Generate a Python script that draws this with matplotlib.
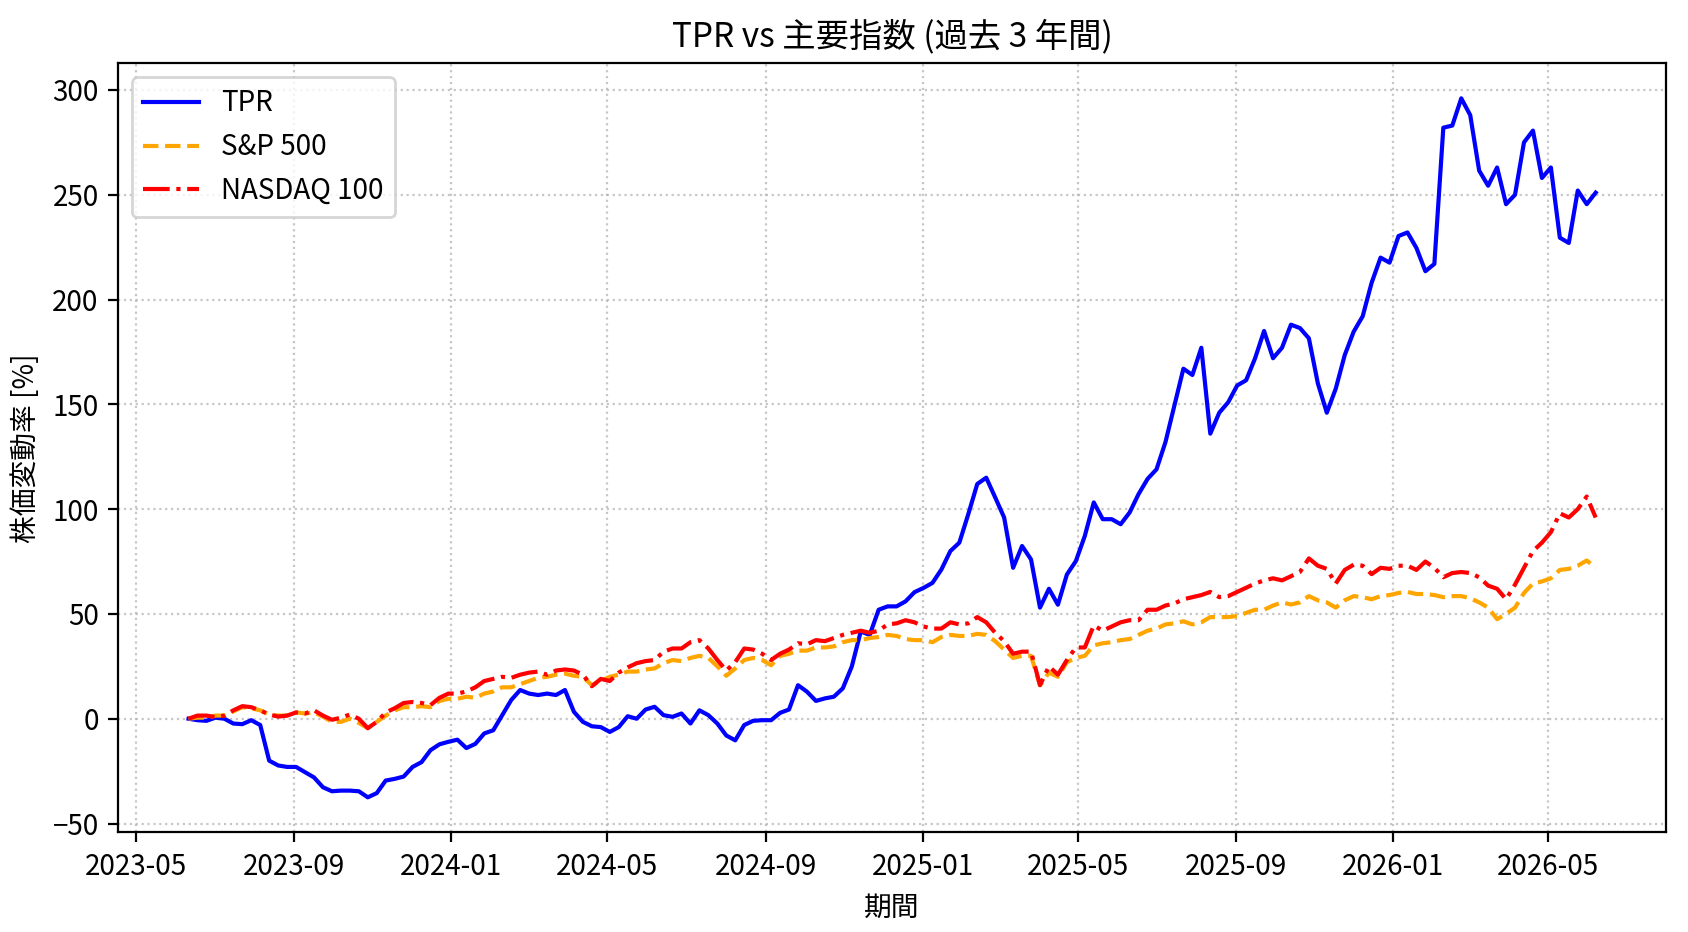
import pandas as pd
import matplotlib
matplotlib.use("Agg")
import matplotlib.pyplot as plt
import matplotlib.dates as mdates

plt.rcParams['font.family'] = ['Noto Sans CJK JP', 'DejaVu Sans']

# ほぼ週次の日付 (2023-06-11 〜 2026-06-07, 158 点)
dates = pd.date_range('2023-06-11', '2026-06-07', periods=158)

# 株価変動率 [%]
tpr = [
    0, -0.7, -1, 0.5, 0, -2.3, -2.6, -0.7, -3, -20,
    -22.3, -23, -23, -25.5, -28, -32.7, -34.6, -34.3, -34.3, -34.6,
    -37.5, -35.5, -29.5, -28.7, -27.6, -23, -20.7, -15, -12.2, -11,
    -10, -14, -12, -7, -5.5, 1.7, 8.9, 13.7, 12, 11.3,
    12, 11.3, 13.7, 3.3, -1.5, -3.6, -4, -6.3, -4, 1.2,
    0, 4.4, 5.7, 1.7, 0.9, 2.5, -2.3, 4, 1.7, -2.3,
    -8, -10.3, -3, -1, -0.7, -0.7, 2.8, 4.4, 16, 12.9,
    8.5, 9.7, 10.5, 14.5, 24.9, 41.6, 40, 52, 53.6, 53.6,
    56, 60.4, 62.4, 64.8, 71.2, 80, 84, 97.6, 112, 115,
    105.6, 96, 72, 82.4, 76, 53, 62, 54.4, 68.8, 75.2,
    87.2, 103.2, 95.2, 95.2, 92.8, 98.4, 107.2, 114.4, 119, 132,
    149.6, 167, 164, 177, 136, 146, 151, 159, 161.5, 172,
    185, 172, 177, 188, 186.4, 181.5, 160, 146, 157.5, 173.5,
    184.7, 192, 208, 220, 217.6, 230.3, 232, 224.6, 213.5, 217,
    282, 283, 296, 288, 261.5, 254.3, 263, 245.5, 250, 275,
    280.6, 258, 263, 229.5, 227, 252, 245.5, 251,
]
sp500 = [
    0, 0.5, 0.5, 1.5, 1.5, 3.5, 5.5, 5, 4, 2,
    1.5, 1.5, 3, 2.5, 3, 1, -1.5, -1.5, 0, -2,
    -4.5, -1.5, 1.5, 4, 5.5, 5.5, 6, 5.5, 8.5, 9.5,
    9.5, 10.5, 10, 12, 13, 15, 15, 16.5, 18, 19.5,
    20, 21, 21.5, 20.5, 20, 16, 18, 20, 21, 22.5,
    22.5, 23.5, 24, 26.5, 28, 27.5, 29, 30, 29, 25,
    20.5, 24, 28, 29, 28, 25.5, 30, 31, 32.5, 32.5,
    34, 34, 34.5, 36.5, 37.5, 37.5, 38.5, 39, 40, 39.5,
    38, 37.5, 37.5, 36.5, 39, 40, 39.5, 39.5, 40.5, 40,
    37, 33, 29, 30, 30, 16, 22, 20, 27, 29,
    30, 35, 36, 36.5, 37.5, 38, 40, 42, 43, 45,
    45.5, 46.5, 45, 46, 48.5, 48.5, 48.5, 49, 50.5, 52,
    52, 54, 55.5, 54.5, 55.5, 58.5, 56.5, 55.5, 53, 56.5,
    58.5, 58, 57, 58.5, 59, 60, 60.5, 59.5, 59.5, 59,
    58, 58.5, 58.5, 57.5, 55.5, 53, 47.5, 50, 53, 60,
    64.5, 65.5, 67, 71, 71.5, 73, 75.5, 72,
]
nasdaq100 = [
    0, 1.5, 1.5, 0.8, 1.5, 4, 6, 5.5, 4, 2,
    1, 1.5, 3, 2.5, 4, 1.5, -0.5, 0.5, 2, 0,
    -4.5, -1.5, 3, 5, 7.5, 8, 7.5, 6.5, 10, 12,
    12, 13, 15, 18, 19, 20, 19.5, 21, 22, 22.5,
    21, 23, 23.5, 23, 21, 15.5, 19, 18, 22, 24.5,
    26.5, 27.5, 28, 32, 33.5, 33.5, 36.5, 37.5, 33.5, 28,
    23, 27, 33.5, 33, 31, 28, 31, 33, 36, 35.5,
    37.5, 37, 38.5, 40, 41, 42, 41, 42, 45, 45.5,
    47, 46, 44, 43, 43, 46, 45, 45.5, 48.5, 46,
    41, 37, 31, 32, 32, 16, 25, 21, 28, 34,
    34, 44.5, 42, 44, 46, 47, 47, 52, 52, 54,
    55, 57, 58, 59, 60.5, 58, 58.5, 60.5, 62.5, 64.5,
    66, 67, 66, 68, 70, 76.5, 73, 71.5, 64.5, 71,
    73.5, 73, 69, 72, 71.5, 73, 73, 71, 75, 72,
    67.5, 69.5, 70, 69.5, 67.5, 63.5, 62, 57, 64, 72,
    80, 84, 89, 98, 96, 100, 106, 96,
]

fig, ax = plt.subplots(figsize=(8.44, 4.66), dpi=200)
ax.plot(dates, tpr, color='blue', linestyle='-', linewidth=1.5, label='TPR')
ax.plot(dates, sp500, color='orange', linestyle='--', linewidth=1.5, label='S&P 500')
ax.plot(dates, nasdaq100, color='red', linestyle='-.', linewidth=1.5, label='NASDAQ 100')

ax.xaxis.set_major_locator(mdates.MonthLocator(bymonth=[1, 5, 9]))
ax.xaxis.set_major_formatter(mdates.DateFormatter('%Y-%m'))

ax.set_title('TPR vs 主要指数 (過去 3 年間)', fontsize=12)
ax.set_xlabel('期間')
ax.set_ylabel('株価変動率 [%]')
ax.grid(True, linestyle=':', alpha=0.7)
ax.legend(loc='upper left')

fig.subplots_adjust(left=0.070, right=0.987, top=0.932, bottom=0.107)
fig.savefig('out.png', dpi=200)
